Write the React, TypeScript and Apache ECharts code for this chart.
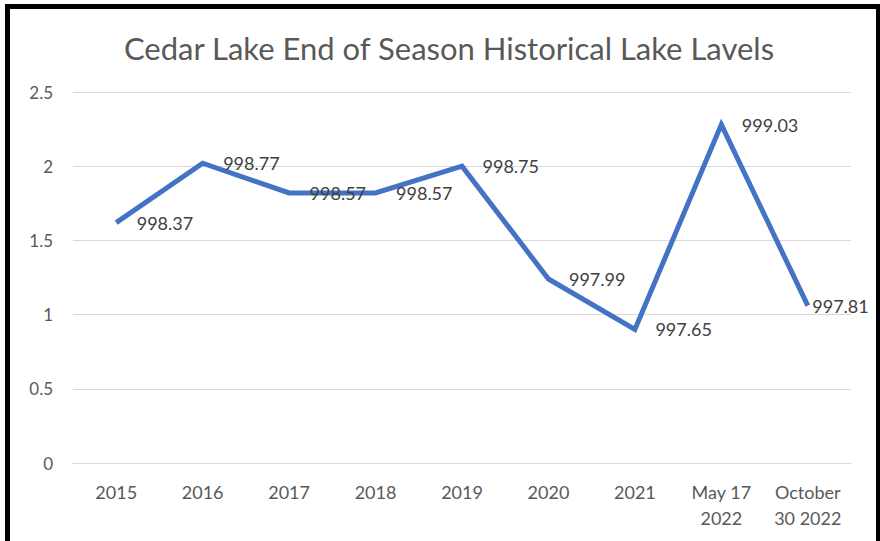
import React, { useEffect, useRef } from "react";
import * as echarts from "echarts";

const categories = ["2015", "2016", "2017", "2018", "2019", "2020", "2021", "May 17\n2022", "October\n30 2022"];
const values = [1.62, 2.02, 1.82, 1.82, 2.0, 1.24, 0.9, 2.28, 1.06];
const labels = ["998.37", "998.77", "998.57", "998.57", "998.75", "997.99", "997.65", "999.03", "997.81"];
const yTicks = { min: 0, max: 2.5, interval: 0.5 };
const title = "Cedar Lake End of Season Historical Lake Lavels";

export default function App() {
  const ref = useRef<HTMLDivElement>(null);
  useEffect(() => {
    if (!ref.current) return;
    const chart = echarts.init(ref.current, undefined, { renderer: "svg" });
    const font = "Lato, 'Open Sans', sans-serif";
    const data = values.map((v, i) => {
      const item: any = { value: v };
      if (i === values.length - 1) item.label = { offset: [-16, 0] };
      return item;
    });
    chart.setOption({
      animation: false,
      backgroundColor: "#ffffff",
      title: {
        text: title,
        left: 444,
        textAlign: "center",
        top: 27,
        textStyle: { fontFamily: font, fontSize: 31, fontWeight: "normal", color: "#595959" },
      },
      grid: { left: 73, right: 29, top: 92, bottom: 78, containLabel: false },
      xAxis: {
        type: "category",
        data: categories,
        boundaryGap: true,
        axisLine: { show: true, lineStyle: { color: "#d9d9d9", width: 1 } },
        axisTick: { show: false },
        axisLabel: {
          fontFamily: font,
          fontSize: 18,
          color: "#595959",
          margin: 16,
          lineHeight: 26,
          interval: 0,
        },
      },
      yAxis: {
        type: "value",
        min: yTicks.min,
        max: yTicks.max,
        interval: yTicks.interval,
        axisLine: { show: false },
        axisTick: { show: false },
        splitLine: { lineStyle: { color: "#d9d9d9", width: 1 } },
        axisLabel: { fontFamily: font, fontSize: 17, color: "#595959", margin: 20 },
      },
      series: [
        {
          type: "line",
          data,
          symbol: "circle",
          symbolSize: 1,
          showSymbol: true,
          itemStyle: { color: "rgba(0,0,0,0)" },
          lineStyle: { color: "#4472C4", width: 5, join: "miter" },
          label: {
            show: true,
            position: "right",
            distance: 20,
            fontFamily: font,
            fontSize: 18,
            color: "#404040",
            formatter: (p: any) => labels[p.dataIndex],
          },
        },
      ],
      graphic: [
        { type: "rect", shape: { x: 5, y: 4, width: 5, height: 537 }, style: { fill: "#000" } },
        { type: "rect", shape: { x: 5, y: 4, width: 875, height: 5 }, style: { fill: "#000" } },
        { type: "rect", shape: { x: 876, y: 4, width: 4, height: 537 }, style: { fill: "#000" } },
      ],
    });
    return () => chart.dispose();
  }, []);
  return (
    <div
      ref={ref}
      style={{ position: "absolute", left: 0, top: 0, width: 880, height: 541 }}
    />
  );
}
